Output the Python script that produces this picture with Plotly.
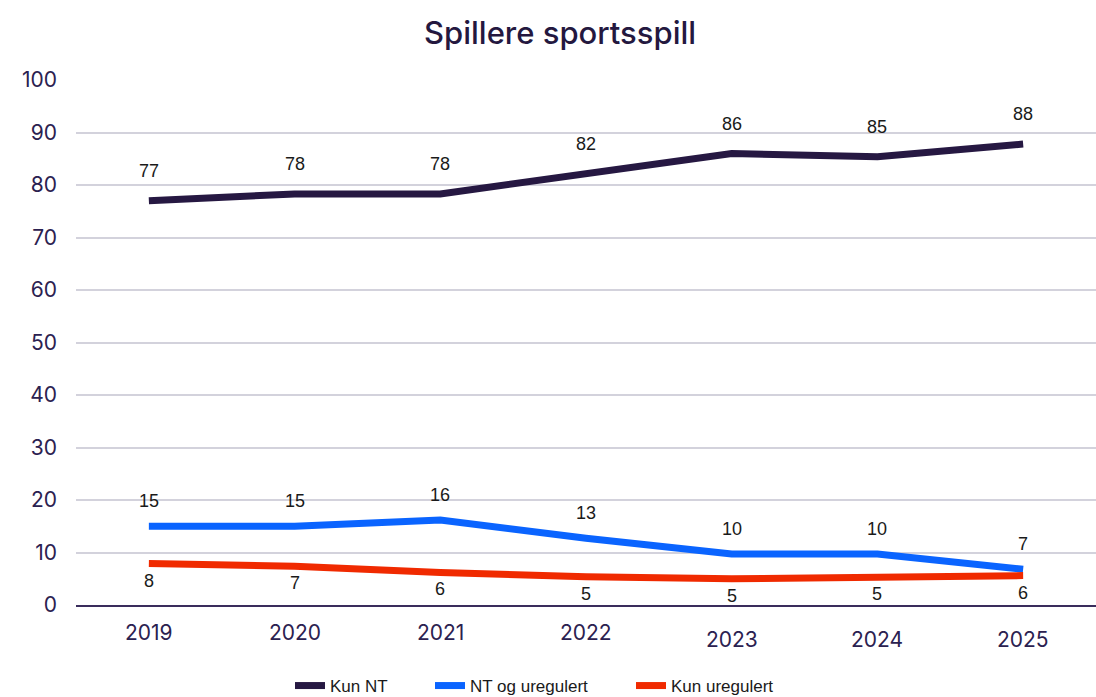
import plotly.graph_objects as go

# Andel spillere av sportsspill per år, etter type tilbyder
years = ["2019", "2020", "2021", "2022", "2023", "2024", "2025"]
kun_nt = [77.0, 78.3, 78.3, 82.1, 86.0, 85.4, 87.8]
nt_og_uregulert = [15.0, 15.0, 16.2, 12.7, 9.7, 9.7, 6.8]
kun_uregulert = [7.9, 7.4, 6.2, 5.4, 5.0, 5.4, 5.6]
y_ticks = [0, 10, 20, 30, 40, 50, 60, 70, 80, 90, 100]

DARK = "#261842"
BLUE = "#0a64ff"
RED = "#f02a00"
TEXT = "#2b2150"

# navn, verdier, farge, etikettforskyvning (px), egen forklaring og dens x-plass
series = [
    ("Kun NT", kun_nt, DARK, 30, "legend", 290),
    ("NT og uregulert", nt_og_uregulert, BLUE, 25, "legend2", 430),
    ("Kun uregulert", kun_uregulert, RED, -17, "legend3", 631),
]

fig = go.Figure()
annotations = []
legends = {}
for name, values, color, shift, leg, leg_x in series:
    fig.add_trace(go.Scatter(
        x=years, y=values, name=name, mode="lines",
        line=dict(color=color, width=7),
        hoverinfo="skip", legend=leg,
    ))
    legends[leg] = dict(
        orientation="h", x=leg_x / 1096, xanchor="left", xref="container",
        y=1 - 668 / 697, yanchor="top", yref="container",
        font=dict(family="Liberation Sans, Arial", size=17, color="#1a1a1a"),
        bgcolor="rgba(0,0,0,0)",
    )
    # verdietiketter; kategoriaksen bruker indeks for posisjon
    for i, v in enumerate(values):
        annotations.append(dict(
            x=i, y=v, xref="x", yref="y", text=f"{round(v)}",
            showarrow=False, yshift=shift,
            font=dict(family="Liberation Sans, Arial", size=18, color="#1a1a1a"),
        ))

# Årstall under x-aksen
label_drop = [27, 27, 27, 27, 34, 34, 34]
for i, (yr, d) in enumerate(zip(years, label_drop)):
    annotations.append(dict(
        x=i, y=0, xref="x", yref="y", text=yr, showarrow=False,
        yshift=-d, font=dict(family="Inter", size=21, color=TEXT),
    ))

fig.update_layout(
    width=1096, height=697,
    margin=dict(l=76, r=0, t=80, b=92, autoexpand=False),
    paper_bgcolor="white", plot_bgcolor="white",
    title=dict(
        text="Spillere sportsspill", x=0.511, xanchor="center",
        y=1 - 33 / 697, yanchor="middle", yref="container",
        font=dict(family="Inter", size=31, weight=500, color="#24183f"),
    ),
    xaxis=dict(
        type="category", range=[-0.5, 6.5], showgrid=False,
        showticklabels=False, ticks="",
        showline=True, linecolor="#3a2d5c", linewidth=2,
        fixedrange=True,
    ),
    yaxis=dict(
        range=[0, 100], tickvals=y_ticks, showgrid=True,
        gridcolor="#d3d2dc", gridwidth=1.5, zeroline=False,
        tickfont=dict(family="Inter", size=21, color=TEXT),
        ticks="", ticklabelstandoff=18,
    ),
    annotations=annotations,
    showlegend=True,
    **legends,
)

fig.write_html("out.html")
